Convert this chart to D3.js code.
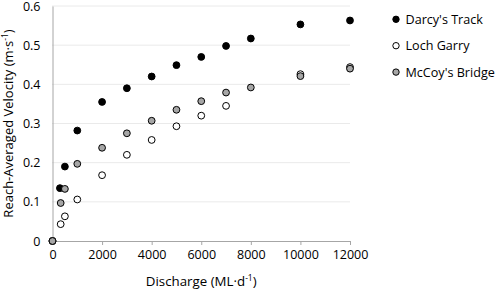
<!DOCTYPE html>
<html>
<head>
<meta charset="utf-8">
<script src="https://cdn.jsdelivr.net/npm/d3@7"></script>
<style>
  body { margin: 0; background: #fff; }
  text { font-family: "Open Sans", sans-serif; fill: #000; }
</style>
</head>
<body>
<div id="chart"></div>
<script>
let w = 498;
let h = 291;

// discharge (ML/d) and reach-averaged velocity (m/s)
let darcyQ = [0, 300, 500, 1000, 2000, 3000, 4000, 5000, 6000, 7000, 8000, 10000, 12000];
let darcyV = [0, 0.135, 0.19, 0.282, 0.355, 0.39, 0.42, 0.449, 0.47, 0.498, 0.517, 0.553, 0.563];

let lochQ = [0, 330, 500, 1000, 2000, 3000, 4000, 5000, 6000, 7000, 10000, 12000];
let lochV = [0, 0.043, 0.063, 0.106, 0.168, 0.22, 0.258, 0.293, 0.32, 0.345, 0.426, 0.444];

let mccoyQ = [0, 330, 500, 1000, 2000, 3000, 4000, 5000, 6000, 7000, 8000, 10000, 12000];
let mccoyV = [0, 0.097, 0.133, 0.197, 0.238, 0.275, 0.307, 0.335, 0.357, 0.379, 0.392, 0.421, 0.44];

let seriesNames = ["Darcy's Track", "Loch Garry", "McCoy's Bridge"];
let xTicks = [0, 2000, 4000, 6000, 8000, 10000, 12000];
let yTicks = [0, 0.1, 0.2, 0.3, 0.4, 0.5, 0.6];

let fills = ["#000000", "#ffffff", "#a6a6a6"];

let series = [
  { name: seriesNames[0], q: darcyQ, v: darcyV, fill: fills[0] },
  { name: seriesNames[1], q: lochQ, v: lochV, fill: fills[1] },
  { name: seriesNames[2], q: mccoyQ, v: mccoyV, fill: fills[2] }
];

let svg = d3.select("#chart").append("svg")
  .attr("width", w)
  .attr("height", h);

let x = d3.scaleLinear().domain([0, 12000]).range([52.5, 350]);
let y = d3.scaleLinear().domain([0, 0.6]).range([241, 6]);

// gridlines
svg.append("g").selectAll("line")
  .data(yTicks.filter(d => d > 0))
  .enter().append("line")
  .attr("x1", x(0)).attr("x2", x(12000))
  .attr("y1", d => y(d)).attr("y2", d => y(d))
  .attr("stroke", "#d4d4d4")
  .attr("stroke-width", 1)
  .attr("stroke-dasharray", "1,1");

// x axis
let xAxis = svg.append("g")
  .attr("transform", "translate(0," + y(0) + ")")
  .call(d3.axisBottom(x).tickValues(xTicks).tickFormat(d3.format("d")).tickSize(4).tickSizeOuter(0).tickPadding(5));
xAxis.select(".domain").attr("stroke", "#a6a6a6");
xAxis.selectAll(".tick line").attr("stroke", "#a6a6a6");
xAxis.selectAll("text").attr("font-size", "12.5px").attr("font-family", "Open Sans").attr("fill", "#000");

// y axis
let yAxis = svg.append("g")
  .attr("transform", "translate(" + x(0) + ",0)")
  .call(d3.axisLeft(y).tickValues(yTicks).tickFormat(d => d === 0 ? "0" : d3.format(".1f")(d)).tickSize(0).tickPadding(12));
yAxis.select(".domain").attr("stroke", "#a6a6a6");
yAxis.selectAll("text").attr("font-size", "12.5px").attr("font-family", "Open Sans").attr("fill", "#000");

// axis titles
let xTitle = svg.append("text")
  .attr("x", (x(0) + x(12000)) / 2)
  .attr("y", 286)
  .attr("text-anchor", "middle")
  .attr("font-size", "13.3px");
xTitle.append("tspan").text("Discharge (ML·d");
xTitle.append("tspan").attr("font-size", "8.5px").attr("dy", -5).text("-1");
xTitle.append("tspan").attr("dy", 5).text(")");

let yTitle = svg.append("text")
  .attr("transform", "translate(12.5," + (y(0) + y(0.6)) / 2 + ") rotate(-90)")
  .attr("text-anchor", "middle")
  .attr("font-size", "13px");
yTitle.append("tspan").text("Reach-Averaged Velocity (m·s");
yTitle.append("tspan").attr("font-size", "8.5px").attr("dy", -5).text("-1");
yTitle.append("tspan").attr("dy", 5).text(")");

// points
series.forEach(s => {
  svg.append("g").selectAll("circle")
    .data(s.q.map((q, i) => [q, s.v[i]]))
    .enter().append("circle")
    .attr("cx", d => x(d[0]))
    .attr("cy", d => y(d[1]))
    .attr("r", 3.4)
    .attr("fill", s.fill)
    .attr("stroke", "#000")
    .attr("stroke-width", 1);
});

// legend
let legend = svg.append("g").selectAll("g")
  .data(series)
  .enter().append("g")
  .attr("transform", (d, i) => "translate(396," + (19.3 + i * 26.4) + ")");
legend.append("circle")
  .attr("r", 3.2)
  .attr("fill", d => d.fill)
  .attr("stroke", "#000")
  .attr("stroke-width", 1);
legend.append("text")
  .attr("x", 9.5)
  .attr("dy", "0.35em")
  .attr("font-size", "12.6px")
  .text(d => d.name);
</script>
</body>
</html>
